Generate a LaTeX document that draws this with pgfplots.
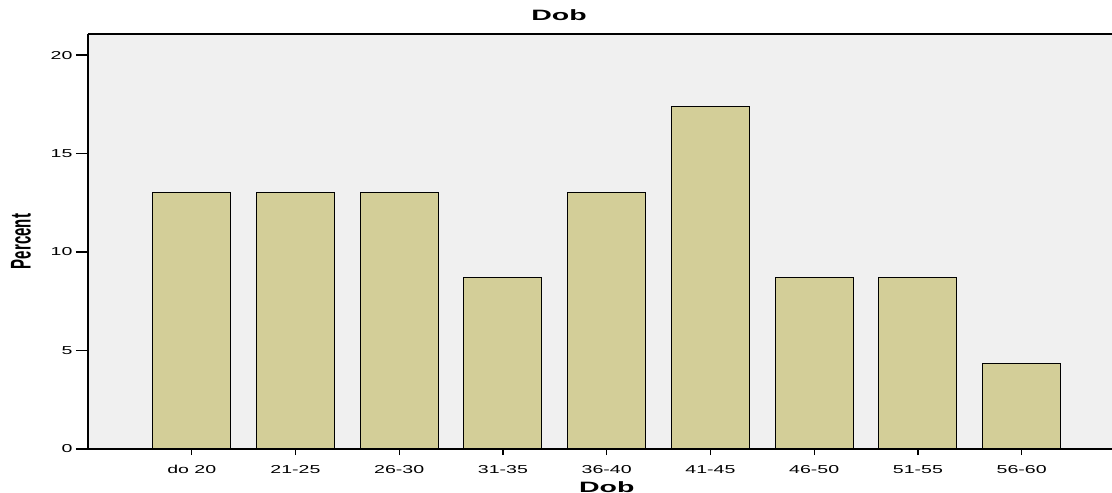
\documentclass[border=0pt]{standalone}
\usepackage{fontspec}
\setmainfont{Liberation Sans}
\newfontfamily\widefont[FakeStretch=1.7]{Liberation Sans}
\newfontfamily\titlefont[FakeStretch=1.9]{Liberation Sans}
\usepackage{graphicx}
\usepackage{pgfplots}
\pgfplotsset{compat=1.18}
\definecolor{barfill}{RGB}{211,206,152}
\definecolor{plotbg}{RGB}{240,240,240}

\begin{document}
\begin{tikzpicture}[x=1pt,y=1pt]
\path[use as bounding box] (0,0) rectangle (1112,493);
\begin{axis}[
  at={(88pt,44pt)}, anchor=south west,
  scale only axis, width=1024pt, height=415pt,
  xmin=-1, xmax=8.87, ymin=0, ymax=21.07,
  axis x line*=box, axis y line*=left,
  axis line style={black, line width=1.3pt},
  axis background/.style={fill=plotbg},
  xtick={0,...,8},
  xticklabels={do 20,21-25,26-30,31-35,36-40,41-45,46-50,51-55,56-60},
  ytick={0,5,10,15,20},
  xtick pos=left, ytick pos=left,
  tick align=outside,
  major tick length=12pt,
  xtick style={/pgfplots/major tick length=6pt},
  tick style={black, line width=1.3pt},
  /pgf/number format/assume math mode=true,
  ticklabel style={font=\widefont\fontsize{11.5}{12}\selectfont},
  xticklabel style={yshift=-1pt},
  title={Dob},
  title style={font=\titlefont\bfseries\fontsize{15}{16}\selectfont,
    at={(axis description cs:0,1)}, xshift=471pt, yshift=13pt, anchor=center},
  xlabel={Dob},
  every axis x label/.style={at={(axis cs:4,0)}, yshift=-38pt, anchor=center,
    font=\titlefont\bfseries\fontsize{15}{16}\selectfont},
  ylabel={\scalebox{1}[1.9]{\bfseries Percent}},
  every axis y label/.style={at={(axis description cs:0,0.5)}, xshift=-67pt,
    rotate=90, anchor=center, font=\fontsize{15}{16}\selectfont},
]
\addplot[ybar, bar width=78pt, fill=barfill, draw=black, line width=1pt]
  coordinates {(0,13.04) (1,13.04) (2,13.04) (3,8.70) (4,13.04) (5,17.39) (6,8.70) (7,8.70) (8,4.35)};
\end{axis}
\end{tikzpicture}
\end{document}
